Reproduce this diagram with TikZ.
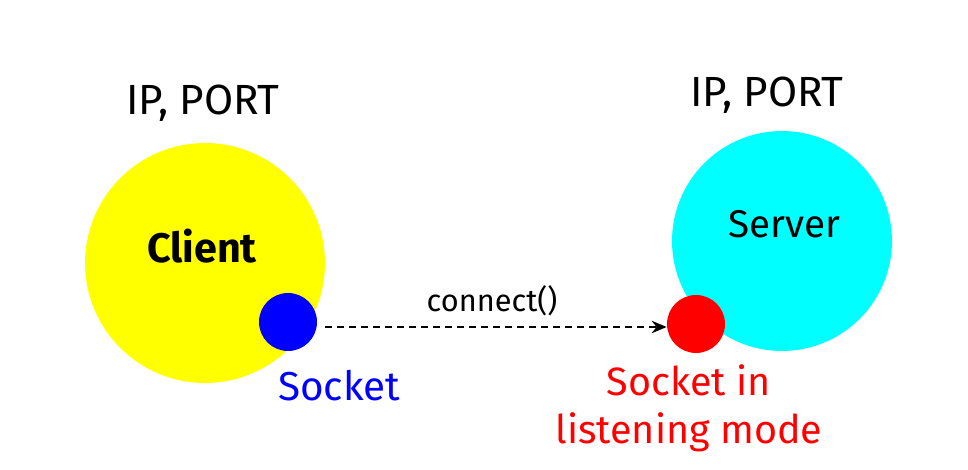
\documentclass[tikz,border=0pt]{standalone}
\usepackage{fontspec}
\setmainfont{Fira Sans}
\usetikzlibrary{arrows.meta, positioning}
\definecolor{hostyellow}{RGB}{255, 255, 0}
\definecolor{hostcyan}{RGB}{0, 255, 255}
\definecolor{sockblue}{RGB}{0, 0, 255}
\definecolor{sockred}{RGB}{255, 0, 0}

\begin{document}
\begin{tikzpicture}[x=0.02cm, y=-0.02cm,
  host/.style={circle, inner sep=0pt, draw=none},
  sock/.style={circle, inner sep=0pt, draw=none, minimum size=1.16cm},
  big/.style={font=\fontsize{24}{29}\selectfont},
  mid/.style={font=\fontsize{22}{27}\selectfont}]
  \useasboundingbox (0,0) rectangle (968,470);

  % hosts
  \node[host, fill=hostyellow, minimum size=4.8cm] (client) at (205,263) {};
  \node[host, fill=hostcyan, minimum size=4.4cm] (server) at (782,241) {};

  % sockets
  \node[sock, fill=sockblue] (csock) at (288,322) {};
  \node[sock, fill=sockred] (ssock) at (696,324) {};

  % texts
  \node[big] (cip) at (203,103) {IP, PORT};
  \node[big] (sip) at (767,95) {IP, PORT};
  \node[font=\fontsize{23.5}{28}\selectfont\bfseries] (cname) at (202,246) {Client};
  \node[mid] (sname) at (784,224) {Server};
  \node[text=sockblue, font=\fontsize{23}{28}\selectfont] (clabel) at (339,386) {Socket};
  \node[text=sockred, align=center, font=\fontsize{22.5}{27.5}\selectfont] (slabel) at (689,408) {Socket in\\listening mode};

  % connection
  \draw[line width=1.1pt, dash pattern=on 0.14cm off 0.1cm, -{Stealth[length=0.3cm, width=0.25cm]}, shorten <=0.16cm]
    (csock.east |- 0,327) -- node[above=0.08cm, font=\fontsize{17.5}{21}\selectfont] (call) {connect()} (ssock.west |- 0,327);
\end{tikzpicture}
\end{document}
